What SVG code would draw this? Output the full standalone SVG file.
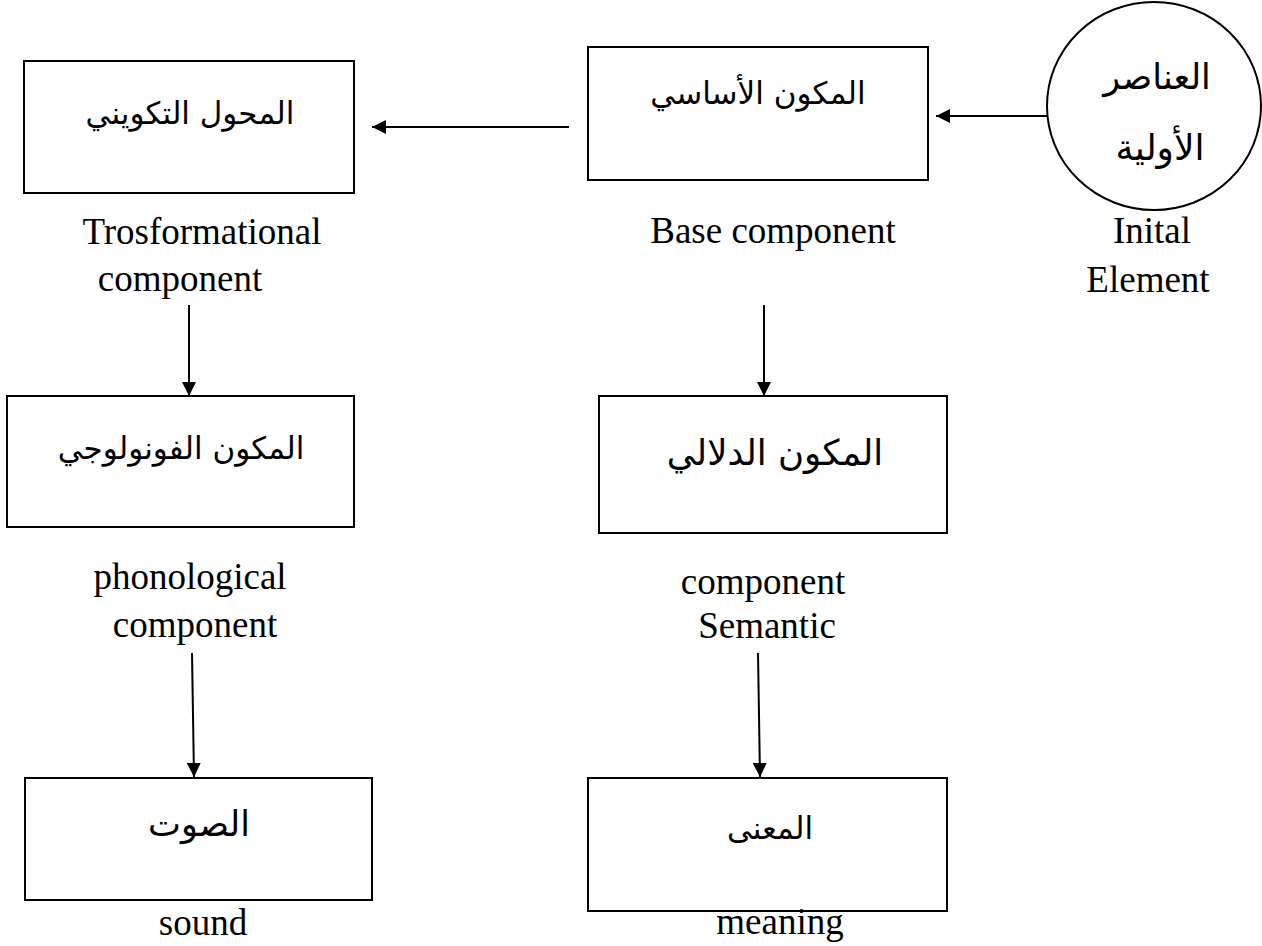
<svg xmlns="http://www.w3.org/2000/svg" width="1262" height="946" viewBox="0 0 1262 946">
<defs>
<marker id="ah" markerWidth="14" markerHeight="14" refX="14" refY="7" orient="auto" markerUnits="userSpaceOnUse">
<path d="M0,0 L14,7 L0,14 Z" fill="#000"/>
</marker>
<style>
.box{fill:#fff;stroke:#000;stroke-width:2}
.ar{font-family:"DejaVu Sans",sans-serif;font-size:31px;fill:#000;text-anchor:middle;direction:rtl}
.en{font-family:"Liberation Serif",serif;font-size:37px;fill:#000;text-anchor:middle}
.con{stroke:#000;stroke-width:2;fill:none;marker-end:url(#ah)}
</style>
</defs>
<rect width="1262" height="946" fill="#fff"/>
<g id="connectors">
<line class="con" x1="569" y1="127" x2="372" y2="127"/>
<line class="con" x1="1048" y1="116" x2="936" y2="116"/>
<line class="con" x1="189" y1="305" x2="189" y2="396"/>
<line class="con" x1="764" y1="305" x2="764" y2="396"/>
<line class="con" x1="192" y1="653" x2="194" y2="777"/>
<line class="con" x1="758" y1="653" x2="760" y2="777"/>
</g>
<g id="n-transform">
<rect class="box" x="24" y="61" width="330" height="132"/>
<text class="ar" x="190" y="124">المحول التكويني</text>
<text class="en" x="202" y="244">Trosformational</text>
<text class="en" x="180" y="291">component</text>
</g>
<g id="n-base">
<rect class="box" x="588" y="47" width="340" height="133"/>
<text class="ar" x="758" y="104">المكون الأساسي</text>
<text class="en" x="773" y="243">Base component</text>
</g>
<g id="n-initial">
<ellipse cx="1154" cy="106" rx="107" ry="104" fill="#fff" stroke="#000" stroke-width="2"/>
<text class="ar" x="1157" y="89" style="font-size:35px">العناصر</text>
<text class="ar" x="1160" y="160" style="font-size:36px">الأولية</text>
<text class="en" x="1152" y="243">Inital</text>
<text class="en" x="1148" y="292">Element</text>
</g>
<g id="n-phono">
<rect class="box" x="7" y="396" width="347" height="131"/>
<text class="ar" x="181" y="459">المكون الفونولوجي</text>
<text class="en" x="190" y="589">phonological</text>
<text class="en" x="195" y="637">component</text>
</g>
<g id="n-semantic">
<rect class="box" x="599" y="396" width="348" height="137"/>
<text class="ar" x="775" y="465" style="font-size:35.5px">المكون الدلالي</text>
<text class="en" x="763" y="594">component</text>
<text class="en" x="767" y="638">Semantic</text>
</g>
<g id="n-sound">
<rect class="box" x="25" y="778" width="347" height="122"/>
<text class="ar" x="199" y="836" style="font-size:35px">الصوت</text>
<text class="en" x="203" y="935">sound</text>
</g>
<g id="n-meaning">
<rect class="box" x="588" y="778" width="359" height="133"/>
<text class="ar" x="770" y="839">المعنى</text>
<text class="en" x="780" y="934">meaning</text>
</g>
</svg>
